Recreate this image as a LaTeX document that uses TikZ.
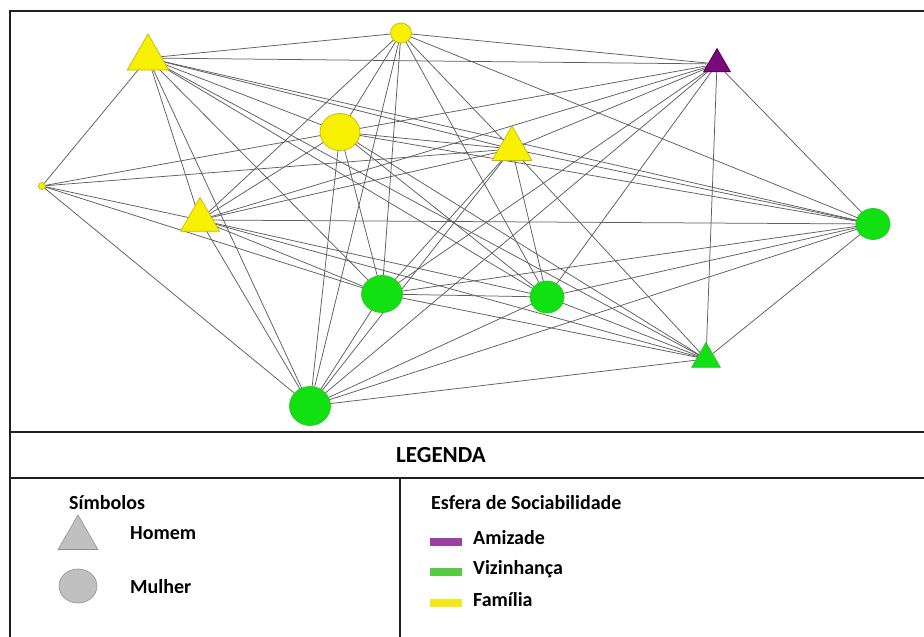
\documentclass[tikz,border=0pt]{standalone}
\usepackage{fontspec}
\setmainfont{Carlito}
\usetikzlibrary{shapes.geometric}
\definecolor{ny}{HTML}{F7F000}
\definecolor{nyb}{HTML}{C8B800}
\definecolor{ng}{HTML}{11E011}
\definecolor{ngb}{HTML}{33C033}
\definecolor{np}{HTML}{7A0A7A}
\definecolor{npb}{HTML}{500050}
\definecolor{edgec}{HTML}{5E5E5E}
\definecolor{lgray}{HTML}{C0C0C0}
\definecolor{lgrayb}{HTML}{909090}
\definecolor{barp}{HTML}{9B3FA0}
\definecolor{barg}{HTML}{55CC44}
\definecolor{bary}{HTML}{F2E81A}
\definecolor{framec}{HTML}{202020}
\begin{document}
\begin{tikzpicture}[x=1pt,y=-1pt,
  edge/.style={draw=edgec, line width=0.75pt},
  tri/.style={regular polygon, regular polygon sides=3, inner sep=0pt},
  ell/.style={ellipse, inner sep=0pt},
  ynode/.style={fill=ny, draw=nyb, line width=0.7pt},
  gnode/.style={fill=ng, draw=ngb, line width=0.7pt},
  pnode/.style={fill=np, draw=npb, line width=0.7pt},
  frame/.style={draw=framec, line width=2.4pt},
  lab/.style={anchor=west, inner sep=0pt, font=\bfseries\fontsize{20}{24}\selectfont},
  swatch/.style={minimum width=32, minimum height=8, inner sep=0pt}]
\useasboundingbox (0,0) rectangle (924,637);
\fill[white] (0,0) rectangle (924,637);
% node positions
\coordinate (A) at (148,58);
\coordinate (B) at (401,33);
\coordinate (C) at (717,64);
\coordinate (D) at (340,132);
\coordinate (E) at (512,149);
\coordinate (F) at (42,186);
\coordinate (G) at (200,220);
\coordinate (H) at (873,224);
\coordinate (I) at (382,294);
\coordinate (J) at (547,297);
\coordinate (K) at (706,359);
\coordinate (L) at (310,406);
% edges
\foreach \a/\b in {F/A,F/D,F/E,F/G,F/I,F/L,
  A/B,A/C,A/D,A/E,A/G,A/H,A/I,A/J,A/K,A/L,
  B/C,B/D,B/G,B/I,B/J,B/L,B/H,B/E,
  C/D,C/E,C/G,C/I,C/J,C/K,C/L,C/H,
  D/E,D/G,D/H,D/I,D/J,D/K,D/L,
  E/G,E/H,E/I,E/J,E/K,E/L,
  G/H,G/I,G/J,G/K,G/L,
  H/I,H/J,H/K,H/L,
  I/J,I/K,I/L,
  J/K,J/L,
  K/L}
  \draw[edge] (\a) -- (\b);
% nodes
\node[ynode, tri, minimum size=48] (nA) at (A) {};
\node[ynode, ell, minimum width=21, minimum height=20] (nB) at (B) {};
\node[pnode, tri, minimum size=31] (nC) at (C) {};
\node[ynode, ell, minimum width=40, minimum height=37] (nD) at (D) {};
\node[ynode, tri, minimum size=46] (nE) at (E) {};
\node[ynode, ell, minimum width=7, minimum height=7] (nF) at (F) {};
\node[ynode, tri, minimum size=45] (nG) at (G) {};
\node[gnode, ell, minimum width=34, minimum height=31] (nH) at (H) {};
\node[gnode, ell, minimum width=41, minimum height=37] (nI) at (I) {};
\node[gnode, ell, minimum width=34, minimum height=32] (nJ) at (J) {};
\node[gnode, tri, minimum size=33] (nK) at (K) {};
\node[gnode, ell, minimum width=41, minimum height=39] (nL) at (L) {};
% frame and legend
\draw[frame] (10,645) -- (10,11) -- (935,11);
\draw[frame] (10,432) -- (935,432);
\draw[frame] (10,478) -- (935,478);
\draw[draw=framec, line width=2pt] (400,478) -- (400,645);
\node[font=\bfseries\fontsize{23}{27}\selectfont, inner sep=0pt] (legenda) at (441,455) {LEGENDA};
\node[lab] (simbolos) at (69,503) {Símbolos};
\node[tri, fill=lgray, draw=lgrayb, line width=0.6pt, minimum size=46] (ltri) at (78,538) {};
\node[lab] (homem) at (130,533) {Homem};
\node[ell, fill=lgray, draw=lgrayb, line width=0.6pt, minimum width=38, minimum height=34] (lell) at (78,586) {};
\node[lab] (mulher) at (130,587) {Mulher};
\node[lab] (esfera) at (431,503) {Esfera de Sociabilidade};
\node[swatch, fill=barp] (sp) at (446,542) {};
\node[lab] (amizade) at (473,538) {Amizade};
\node[swatch, fill=barg] (sg) at (446,572) {};
\node[lab] (vizinhanca) at (473,569) {Vizinhança};
\node[swatch, fill=bary] (sy) at (446,603) {};
\node[lab] (familia) at (473,600) {Família};
\end{tikzpicture}
\end{document}
